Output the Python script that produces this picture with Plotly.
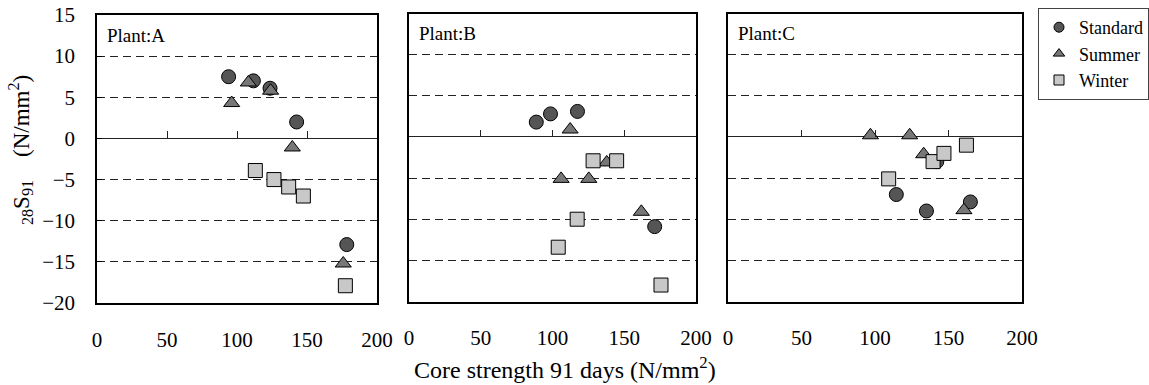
import plotly.graph_objects as go

# ---------------- data ----------------
plants = ["A", "B", "C"]
series_names = ["Standard", "Summer", "Winter"]

std_a_x = [94.0, 111.7, 123.6, 142.6, 178.4]
std_a_y = [7.5, 7.0, 6.1, 2.0, -12.9]
sum_a_x = [96.2, 108.1, 124.0, 139.5, 175.9]
sum_a_y = [4.3, 6.8, 5.8, -1.1, -15.2]
win_a_x = [113.1, 126.4, 136.9, 147.4, 177.4]
win_a_y = [-3.9, -5.0, -5.9, -7.0, -17.9]

std_b_x = [88.7, 98.6, 117.4, 171.2]
std_b_y = [1.8, 2.8, 3.1, -10.9]
sum_b_x = [112.3, 106.0, 125.3, 137.8, 161.9]
sum_b_y = [0.9, -5.1, -5.1, -3.1, -9.1]
win_b_x = [128.3, 144.7, 117.2, 104.0, 175.6]
win_b_y = [-2.9, -2.9, -10.0, -13.4, -18.0]

std_c_x = [114.5, 135.0, 164.9, 142.0]
std_c_y = [-7.0, -9.0, -7.9, -3.0]
sum_c_x = [96.9, 123.6, 133.1, 160.5]
sum_c_y = [0.2, 0.2, -2.1, -8.9]
win_c_x = [109.3, 139.5, 146.9, 162.2]
win_c_y = [-5.1, -3.0, -2.0, -1.0]

x_ticks = [0, 50, 100, 150, 200]
y_ticks = [15, 10, 5, 0, -5, -10, -15, -20]

# ---------------- styles ----------------
W, H = 1149, 385
FONT = "Liberation Serif"
styles = {
    "Standard": dict(symbol="circle", size=14, color="#555555"),
    "Summer": dict(symbol="triangle-up", size=14, color="#777777"),
    "Winter": dict(symbol="square", size=14, color="#c8c8c8"),
}

# panel pixel boxes (left, right, top, bottom)
boxes = [(97, 377, 15, 303), (409, 696, 13.5, 301.5), (728, 1022, 13.5, 301.5)]

data = {
    "A": [(std_a_x, std_a_y), (sum_a_x, sum_a_y), (win_a_x, win_a_y)],
    "B": [(std_b_x, std_b_y), (sum_b_x, sum_b_y), (win_b_x, win_b_y)],
    "C": [(std_c_x, std_c_y), (sum_c_x, sum_c_y), (win_c_x, win_c_y)],
}

fig = go.Figure()
layout = dict(
    template="none",
    width=W, height=H,
    margin=dict(l=0, r=0, t=0, b=0, pad=0, autoexpand=False),
    paper_bgcolor="white", plot_bgcolor="white",
    font=dict(family=FONT, color="black", size=20),
    showlegend=True,
    hovermode=False,
    legend=dict(
        x=1.0, y=1 - 8 / H, xanchor="right", yanchor="top",
        bordercolor="#444444", borderwidth=1,
        font=dict(family=FONT, size=18, color="black"),
        bgcolor="white",
        tracegroupgap=0, itemwidth=30,
    ),
)

# legend-only entries (small markers as in the reference legend)
for name in series_names:
    st = styles[name]
    fig.add_trace(go.Scatter(
        x=[None], y=[None], mode="markers", name=name, showlegend=True,
        marker=dict(symbol=st["symbol"], size=10, color=st["color"],
                    line=dict(color="black", width=1)),
    ))

annotations = []
for i, p in enumerate(plants):
    l, r, t, b = boxes[i]
    xd = [l / W, r / W]
    yd = [1 - b / H, 1 - t / H]
    sfx = "" if i == 0 else str(i + 1)
    xa, ya = "x" + sfx, "y" + sfx
    for (xs, ys), name in zip(data[p], series_names):
        st = styles[name]
        fig.add_trace(go.Scatter(
            x=xs, y=ys, mode="markers", name=name,
            showlegend=False,
            marker=dict(symbol=st["symbol"], size=st["size"], color=st["color"],
                        line=dict(color="black", width=1)),
            xaxis=xa, yaxis=ya,
        ))
    layout["xaxis" + sfx] = dict(
        domain=xd, anchor=ya, range=[0, 200], tickvals=x_ticks,
        ticks="", showgrid=False, zeroline=False, automargin=False,
        showline=True, linecolor="black", linewidth=1.5, mirror=True,
        tickfont=dict(size=21, family=FONT, color="black"), ticklabelstandoff=17,
    )
    layout["yaxis" + sfx] = dict(
        domain=yd, anchor=xa, range=[-20, 15], tickvals=y_ticks,
        showticklabels=(i == 0), ticks="inside" if i == 0 else "", ticklen=5,
        tickcolor="black", automargin=False,
        showgrid=True, gridcolor="#222222", griddash="8px,5px", gridwidth=1,
        zeroline=True, zerolinecolor="#222222", zerolinewidth=1,
        showline=True, linecolor="black", linewidth=1.5, mirror=True,
        tickfont=dict(size=21, family=FONT, color="black"), ticklabelstandoff=16,
    )
    # tick marks along the zero line (an extra x axis placed at y = 0)
    zero_pos = yd[0] + (yd[1] - yd[0]) * (0 - (-20)) / 35
    k = str(i + 4)
    layout["xaxis" + k] = dict(
        overlaying=xa, anchor="free", position=zero_pos, side="bottom",
        range=[0, 200], tickvals=[50, 100, 150], ticks="inside", ticklen=7,
        tickcolor="#222222", tickwidth=1, showticklabels=False, showline=False,
        showgrid=False, zeroline=False, automargin=False,
    )
    fig.add_trace(go.Scatter(x=[None], y=[None], mode="markers", showlegend=False,
                             xaxis="x" + k, yaxis=ya))
    annotations.append(dict(
        text="Plant:" + p, xref="paper", yref="paper",
        x=(l + 8) / W, y=1 - (t + 20) / H, xanchor="left", yanchor="middle",
        showarrow=False, font=dict(family=FONT, size=19, color="black"),
    ))

annotations.append(dict(
    text="Core strength 91 days (N/mm<sup>2</sup>)", xref="paper", yref="paper",
    x=565 / W, y=1 - 368 / H, xanchor="center", yanchor="middle",
    showarrow=False, font=dict(family=FONT, size=24, color="black"),
))
annotations.append(dict(
    text="<sub>28</sub>S<sub>91</sub>\u00a0\u00a0\u00a0\u00a0(N/mm<sup>2</sup>)",
    xref="paper", yref="paper", textangle=-90,
    x=20 / W, y=1 - 150 / H, xanchor="center", yanchor="middle",
    showarrow=False, font=dict(family=FONT, size=23, color="black"),
))
layout["annotations"] = annotations
fig.update_layout(**layout)
fig.write_html("out.html")
